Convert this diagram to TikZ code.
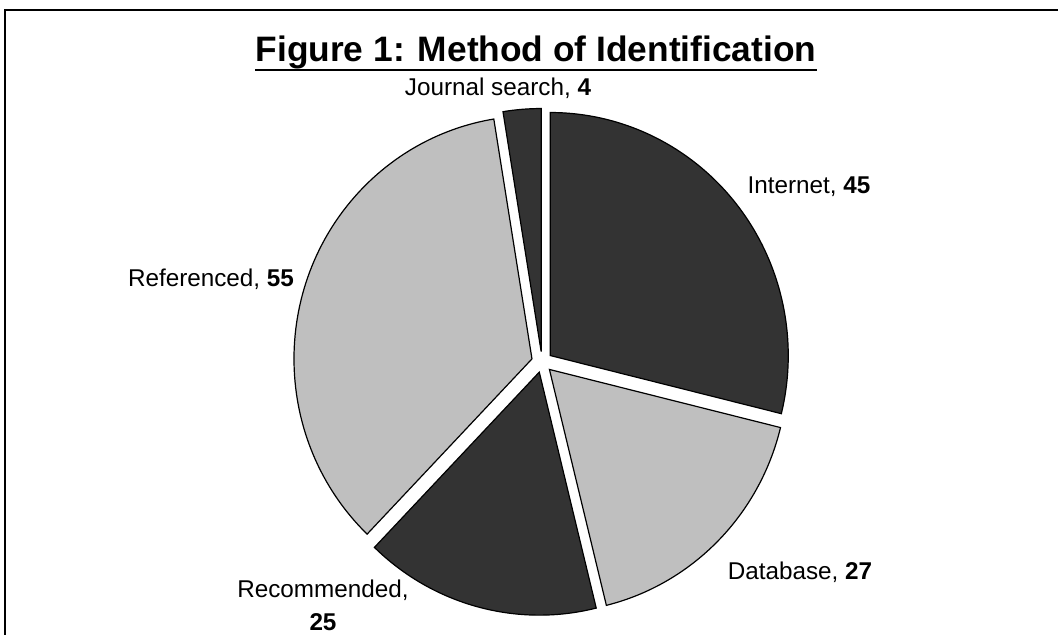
\documentclass[tikz,border=0pt]{standalone}
\usepackage{fontspec}
\setmainfont{Liberation Sans}
\newcommand{\pieslice}[3]{%
  \path (C) ++({(#1+#2)/2}:10.5) coordinate (apex);
  \draw[#3] (apex) -- ++(#1:238 and 243) arc[start angle=#1,end angle=#2,x radius=238,y radius=243] -- cycle;}
\begin{document}
\begin{tikzpicture}[x=0.75pt,y=-0.75pt,
  slice/.style={draw=black,line width=0.9pt,line join=miter},
  dark/.style={slice,fill=black!80},
  light/.style={slice,fill=black!25},
  lbl/.style={font=\fontsize{18.2}{24.75}\selectfont,inner sep=0pt,anchor=base}]
\useasboundingbox (0,0) rectangle (1058,635);
\fill[white] (0,0) rectangle (1058,635);
% frame
\draw[line width=1.6pt] (5,636) -- (5,10) -- (1059,10);
% pie
\coordinate (C) at (542,362);
\pieslice{-90}{13.846}{dark}
\pieslice{13.846}{76.154}{light}
\pieslice{76.154}{133.846}{dark}
\pieslice{133.846}{260.769}{light}
\pieslice{260.769}{270}{dark}
% title
\node[inner sep=0pt,anchor=base,font=\fontsize{26.5}{30}\selectfont\bfseries] (title) at (536,62) {Figure 1: Method of Identification};
\draw[line width=1.8pt] ([yshift=-6pt]title.base west) -- ([yshift=-6pt]title.base east);
% labels
\node[lbl] (journal) at (498,96) {Journal search, \textbf{4}};
\node[lbl] (internet) at (809,194) {Internet, \textbf{45}};
\node[lbl] (referenced) at (211,286) {Referenced, \textbf{55}};
\node[lbl] (database) at (800,579) {Database, \textbf{27}};
\node[lbl,align=center] (recommended) at (323,630) {Recommended,\\\textbf{25}};
\end{tikzpicture}
\end{document}
